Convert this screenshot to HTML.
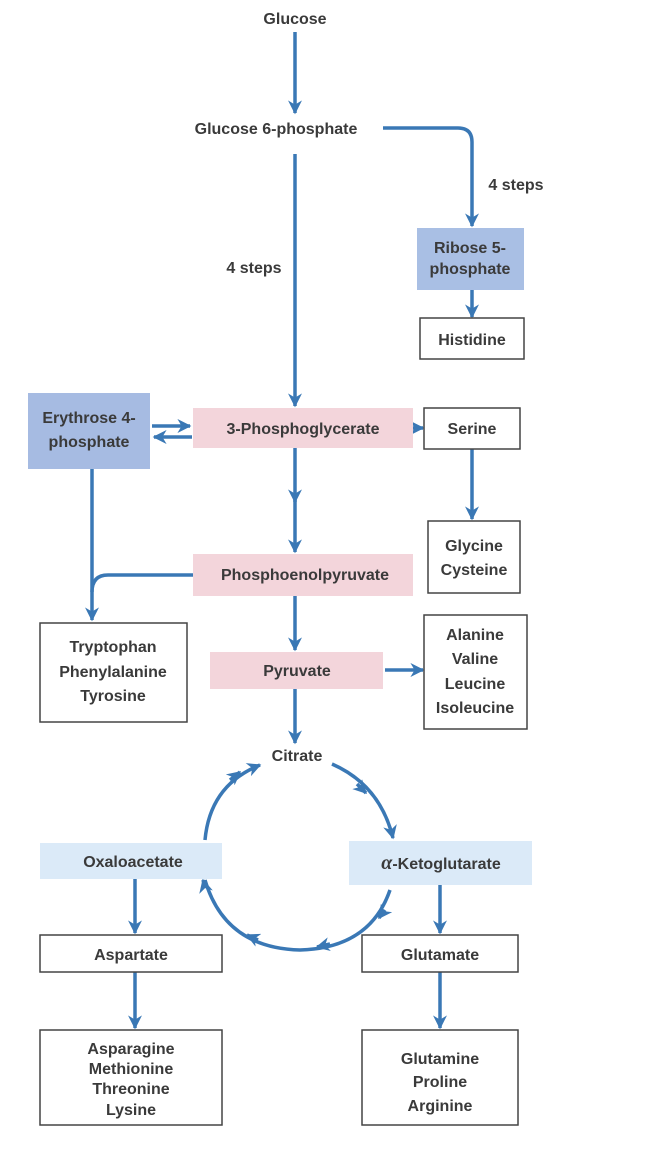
<!DOCTYPE html>
<html><head><meta charset="utf-8"><style>
html,body{margin:0;padding:0;background:#fff;}
svg{display:block;}
text{font-family:"Liberation Sans",sans-serif;font-weight:bold;font-size:16px;fill:#3a3a3a;text-anchor:middle;}
</style></head><body>
<svg width="665" height="1163" viewBox="0 0 665 1163" xmlns="http://www.w3.org/2000/svg">
<defs>
<marker id="a" viewBox="0 0 10 10" refX="9" refY="5" markerWidth="4" markerHeight="4" orient="auto"><path d="M0,0 L10,5 L0,10 L3,5 z" fill="#3a78b5"/></marker>
</defs>
<g fill="none" stroke="#3a78b5" stroke-width="3.5">
<line x1="295" y1="32" x2="295" y2="113" marker-end="url(#a)"/>
<line x1="295" y1="154" x2="295" y2="406" marker-end="url(#a)"/>
<path d="M383,128 H458 Q472,128 472,142 V226" marker-end="url(#a)"/>
<line x1="472" y1="290" x2="472" y2="317" marker-end="url(#a)"/>
<line x1="152" y1="426" x2="190" y2="426" marker-end="url(#a)"/>
<line x1="192" y1="437" x2="154" y2="437" marker-end="url(#a)"/>
<line x1="413" y1="428" x2="423" y2="428" marker-end="url(#a)"/>
<line x1="472" y1="449" x2="472" y2="519" marker-end="url(#a)"/>
<line x1="295" y1="448" x2="295" y2="502" marker-end="url(#a)"/>
<line x1="295" y1="500" x2="295" y2="552" marker-end="url(#a)"/>
<line x1="92" y1="469" x2="92" y2="620" marker-end="url(#a)"/>
<path d="M193,575 H108 Q92,575 92,592"/>
<line x1="295" y1="596" x2="295" y2="650" marker-end="url(#a)"/>
<line x1="385" y1="670" x2="423" y2="670" marker-end="url(#a)"/>
<line x1="295" y1="689" x2="295" y2="743" marker-end="url(#a)"/>
<path d="M332,764 Q380,785 393,838" marker-end="url(#a)"/>
<path d="M390,890 Q370,948 300,950 Q225,948 205,880" />
<path d="M205,888 L203,880" marker-end="url(#a)"/>
<path d="M205,840 Q210,785 260,765" marker-end="url(#a)"/>
<path d="M357,784 L366,793" marker-end="url(#a)"/>
<path d="M385,910 L379,918" marker-end="url(#a)"/>
<path d="M330,944 L317,947" marker-end="url(#a)"/>
<path d="M258,940 L247,935" marker-end="url(#a)"/>
<path d="M230,780 L240,772" marker-end="url(#a)"/>
<line x1="135" y1="878" x2="135" y2="933" marker-end="url(#a)"/>
<line x1="440" y1="885" x2="440" y2="933" marker-end="url(#a)"/>
<line x1="135" y1="972" x2="135" y2="1028" marker-end="url(#a)"/>
<line x1="440" y1="972" x2="440" y2="1028" marker-end="url(#a)"/>
</g>
<rect x="417" y="228" width="107" height="62" fill="#a9bfe4"/>
<rect x="28" y="393" width="122" height="76" fill="#a6bbe2"/>
<rect x="193" y="408" width="220" height="40" fill="#f3d5db"/>
<rect x="193" y="554" width="220" height="42" fill="#f3d5db"/>
<rect x="210" y="652" width="173" height="37" fill="#f3d5db"/>
<rect x="40" y="843" width="182" height="36" fill="#dbeaf8"/>
<rect x="349" y="841" width="183" height="44" fill="#dbeaf8"/>
<g fill="#fff" stroke="#444" stroke-width="1.5">
<rect x="420" y="318" width="104" height="41"/>
<rect x="424" y="408" width="96" height="41"/>
<rect x="428" y="521" width="92" height="72"/>
<rect x="40" y="623" width="147" height="99"/>
<rect x="424" y="615" width="103" height="114"/>
<rect x="40" y="935" width="182" height="37"/>
<rect x="362" y="935" width="156" height="37"/>
<rect x="40" y="1030" width="182" height="95"/>
<rect x="362" y="1030" width="156" height="95"/>
</g>
<text x="295" y="24">Glucose</text>
<text x="276" y="134">Glucose 6-phosphate</text>
<text x="516" y="190">4 steps</text>
<text x="254" y="273">4 steps</text>
<text x="470" y="253" font-size="15">Ribose 5-</text>
<text x="470" y="274" font-size="15">phosphate</text>
<text x="472" y="345">Histidine</text>
<text x="89" y="423">Erythrose 4-</text>
<text x="89" y="447">phosphate</text>
<text x="303" y="434">3-Phosphoglycerate</text>
<text x="472" y="434">Serine</text>
<text x="474" y="551">Glycine</text>
<text x="474" y="575">Cysteine</text>
<text x="305" y="580">Phosphoenolpyruvate</text>
<text x="113" y="652">Tryptophan</text>
<text x="113" y="677">Phenylalanine</text>
<text x="113" y="701">Tyrosine</text>
<text x="297" y="676">Pyruvate</text>
<text x="475" y="640">Alanine</text>
<text x="475" y="664">Valine</text>
<text x="475" y="689">Leucine</text>
<text x="475" y="713">Isoleucine</text>
<text x="297" y="761">Citrate</text>
<text x="133" y="867">Oxaloacetate</text>
<text x="441" y="869"><tspan font-family="Liberation Serif" font-style="italic" font-size="20">α</tspan>-Ketoglutarate</text>
<text x="131" y="960">Aspartate</text>
<text x="440" y="960">Glutamate</text>
<text x="131" y="1054">Asparagine</text>
<text x="131" y="1074">Methionine</text>
<text x="131" y="1094">Threonine</text>
<text x="131" y="1115">Lysine</text>
<text x="440" y="1064">Glutamine</text>
<text x="440" y="1087">Proline</text>
<text x="440" y="1111">Arginine</text>
</svg>
</body></html>
